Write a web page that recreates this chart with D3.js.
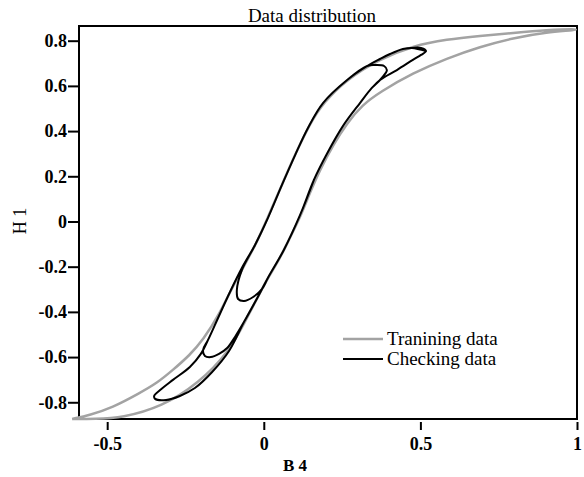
<!DOCTYPE html>
<html>
<head>
<meta charset="utf-8">
<script src="https://cdn.jsdelivr.net/npm/d3@7"></script>
<style>
    body { margin: 0; background: #fff; }
    text { font-family: "Liberation Serif", "Times New Roman", serif; }
</style>
</head>
<body>
<div id="chart"></div>
<script>
// training loop (major hysteresis loop): lower branch up, then upper branch down
var trainB = [-0.612, -0.539, -0.453, -0.325, -0.207, -0.111, -0.060, -0.019, 0.013, 0.052, 0.083, 0.115, 0.147, 0.179, 0.221, 0.266, 0.314, 0.371, 0.476, 0.585, 0.690, 0.796, 0.904, 1.000,
              1.000, 0.904, 0.796, 0.690, 0.585, 0.476, 0.371, 0.266, 0.189, 0.147, 0.099, 0.058, 0.020, -0.025, -0.089, -0.143, -0.194, -0.236, -0.290, -0.341, -0.396, -0.485, -0.555, -0.612];
var trainH = [-0.874, -0.874, -0.869, -0.820, -0.715, -0.577, -0.444, -0.334, -0.250, -0.162, -0.073, 0.015, 0.126, 0.228, 0.338, 0.436, 0.515, 0.573, 0.657, 0.722, 0.773, 0.812, 0.838, 0.847,
              0.852, 0.847, 0.834, 0.821, 0.806, 0.777, 0.719, 0.630, 0.524, 0.431, 0.294, 0.162, 0.042, -0.104, -0.259, -0.414, -0.524, -0.591, -0.657, -0.715, -0.759, -0.825, -0.856, -0.874];

// checking data: minor loops
var checkB = [0.518, 0.473, 0.444, 0.403, 0.371, 0.330, 0.266, 0.189, 0.141, 0.100, 0.058, 0.013, -0.028, -0.070, -0.108, -0.146, -0.178, -0.201, -0.236, -0.290, -0.331, -0.350,
              -0.347, -0.312, -0.268, -0.220, -0.165, -0.111, -0.063, -0.019, 0.013, 0.064, 0.116, 0.160, 0.203, 0.253, 0.307, 0.345, 0.371, 0.425, 0.476, 0.502, 0.518,
              0.502, 0.473, 0.444, 0.403, 0.371, 0.330, 0.266, 0.189, 0.141, 0.100, 0.058, 0.013, -0.028, -0.070, -0.108, -0.146, -0.178, -0.194, -0.188, -0.169, -0.143, -0.117, -0.092, -0.063,
              -0.019, 0.013, 0.064, 0.116, 0.160, 0.203, 0.253, 0.307, 0.345, 0.371, 0.387, 0.393, 0.384, 0.355, 0.330,
              0.266, 0.189, 0.141, 0.100, 0.058, 0.013, -0.028, -0.070, -0.086, -0.082, -0.063, -0.034, -0.006, 0.013, 0.064, 0.116, 0.160];
var checkH = [0.754, 0.768, 0.763, 0.741, 0.719, 0.688, 0.626, 0.524, 0.414, 0.294, 0.162, 0.015, -0.104, -0.206, -0.312, -0.427, -0.524, -0.586, -0.644, -0.701, -0.746, -0.772,
              -0.785, -0.790, -0.772, -0.737, -0.666, -0.573, -0.444, -0.334, -0.250, -0.126, 0.029, 0.184, 0.303, 0.423, 0.524, 0.591, 0.626, 0.670, 0.715, 0.737, 0.754,
              0.768, 0.768, 0.763, 0.741, 0.719, 0.688, 0.626, 0.524, 0.414, 0.294, 0.162, 0.015, -0.104, -0.206, -0.312, -0.427, -0.524, -0.569, -0.595, -0.600, -0.586, -0.560, -0.511, -0.444,
              -0.334, -0.250, -0.126, 0.029, 0.184, 0.303, 0.423, 0.524, 0.591, 0.626, 0.653, 0.670, 0.688, 0.692, 0.688,
              0.626, 0.524, 0.414, 0.294, 0.162, 0.015, -0.104, -0.215, -0.303, -0.343, -0.352, -0.334, -0.299, -0.250, -0.126, 0.029, 0.184];

var xTicks = [-0.5, 0, 0.5, 1];
var yTicks = [-0.8, -0.6, -0.4, -0.2, 0, 0.2, 0.4, 0.6, 0.8];
var legendLabels = ["Tranining data", "Checking data"];

(function () {
    'use strict';

    var w = 584,
        h = 477;
    var left = 79, right = 577, top = 26, bottom = 419;

    var svg = d3.select("#chart")
        .append("svg")
        .attr("width", w)
        .attr("height", h);

    var x = d3.scaleLinear().domain([-0.59, 1.0]).range([left, right]),
        y = d3.scaleLinear().domain([-0.874, 0.865]).range([bottom, top]);

    // label format: plain hyphen, no trailing zeros
    var fmt = function (d) { return String(d); };

    // frame
    svg.append("rect")
        .attr("x", left)
        .attr("y", top)
        .attr("width", right - left)
        .attr("height", bottom - top)
        .attr("fill", "none")
        .attr("stroke", "#000")
        .attr("stroke-width", 2);

    var yAxis = svg.append("g")
        .attr("transform", "translate(" + (left - 1) + ",0)")
        .call(d3.axisLeft(y).tickValues(yTicks).tickSize(10).tickPadding(1).tickFormat(fmt));
    yAxis.select(".domain").remove();

    var xAxis = svg.append("g")
        .attr("transform", "translate(0," + (bottom + 3) + ")")
        .call(d3.axisBottom(x).tickValues(xTicks).tickSize(8).tickPadding(7).tickFormat(fmt));
    xAxis.select(".domain").remove();

    svg.selectAll(".tick line").attr("stroke", "#000").attr("stroke-width", 2);
    svg.selectAll(".tick text")
        .attr("fill", "#000")
        .style("font-family", '"Liberation Serif", "Times New Roman", serif')
        .style("font-size", "18px")
        .style("font-weight", "bold");

    var train = trainB.map(function (b, i) { return [b, trainH[i]]; });
    var check = checkB.map(function (b, i) { return [b, checkH[i]]; });

    // the major loop is smooth, so a b-spline through the read points
    var smooth = d3.line()
        .x(function (d) { return x(d[0]); })
        .y(function (d) { return y(d[1]); })
        .curve(d3.curveBasis);

    var line = d3.line()
        .x(function (d) { return x(d[0]); })
        .y(function (d) { return y(d[1]); })
        .curve(d3.curveCatmullRom.alpha(0.5));

    svg.append("path")
        .datum(train)
        .attr("d", smooth)
        .attr("fill", "none")
        .attr("stroke", "#a3a3a3")
        .attr("stroke-width", 2.5);

    svg.append("path")
        .datum(check)
        .attr("d", line)
        .attr("fill", "none")
        .attr("stroke", "#000")
        .attr("stroke-width", 2)
        .attr("stroke-linejoin", "round");

    // title and axis labels
    svg.append("text")
        .attr("x", 312)
        .attr("y", 22)
        .attr("text-anchor", "middle")
        .style("font-size", "19px")
        .text("Data distribution");

    svg.append("text")
        .attr("x", 283)
        .attr("y", 471)
        .style("font-size", "17px")
        .style("font-weight", "bold")
        .text("B 4");

    svg.append("text")
        .attr("transform", "translate(26,221) rotate(-90)")
        .attr("text-anchor", "middle")
        .style("font-size", "18px")
        .text("H 1");

    // legend
    var legendColors = ["#a3a3a3", "#000"];
    var lg = svg.append("g").attr("transform", "translate(343,339)");
    legendLabels.forEach(function (label, i) {
        lg.append("line")
            .attr("x1", 0).attr("x2", 40)
            .attr("y1", i * 20).attr("y2", i * 20)
            .attr("stroke", legendColors[i])
            .attr("stroke-width", i === 0 ? 2.5 : 2);
        lg.append("text")
            .attr("x", 44)
            .attr("y", i * 20 + 6)
            .style("font-size", "19px")
            .text(label);
    });
})();
</script>
</body>
</html>
